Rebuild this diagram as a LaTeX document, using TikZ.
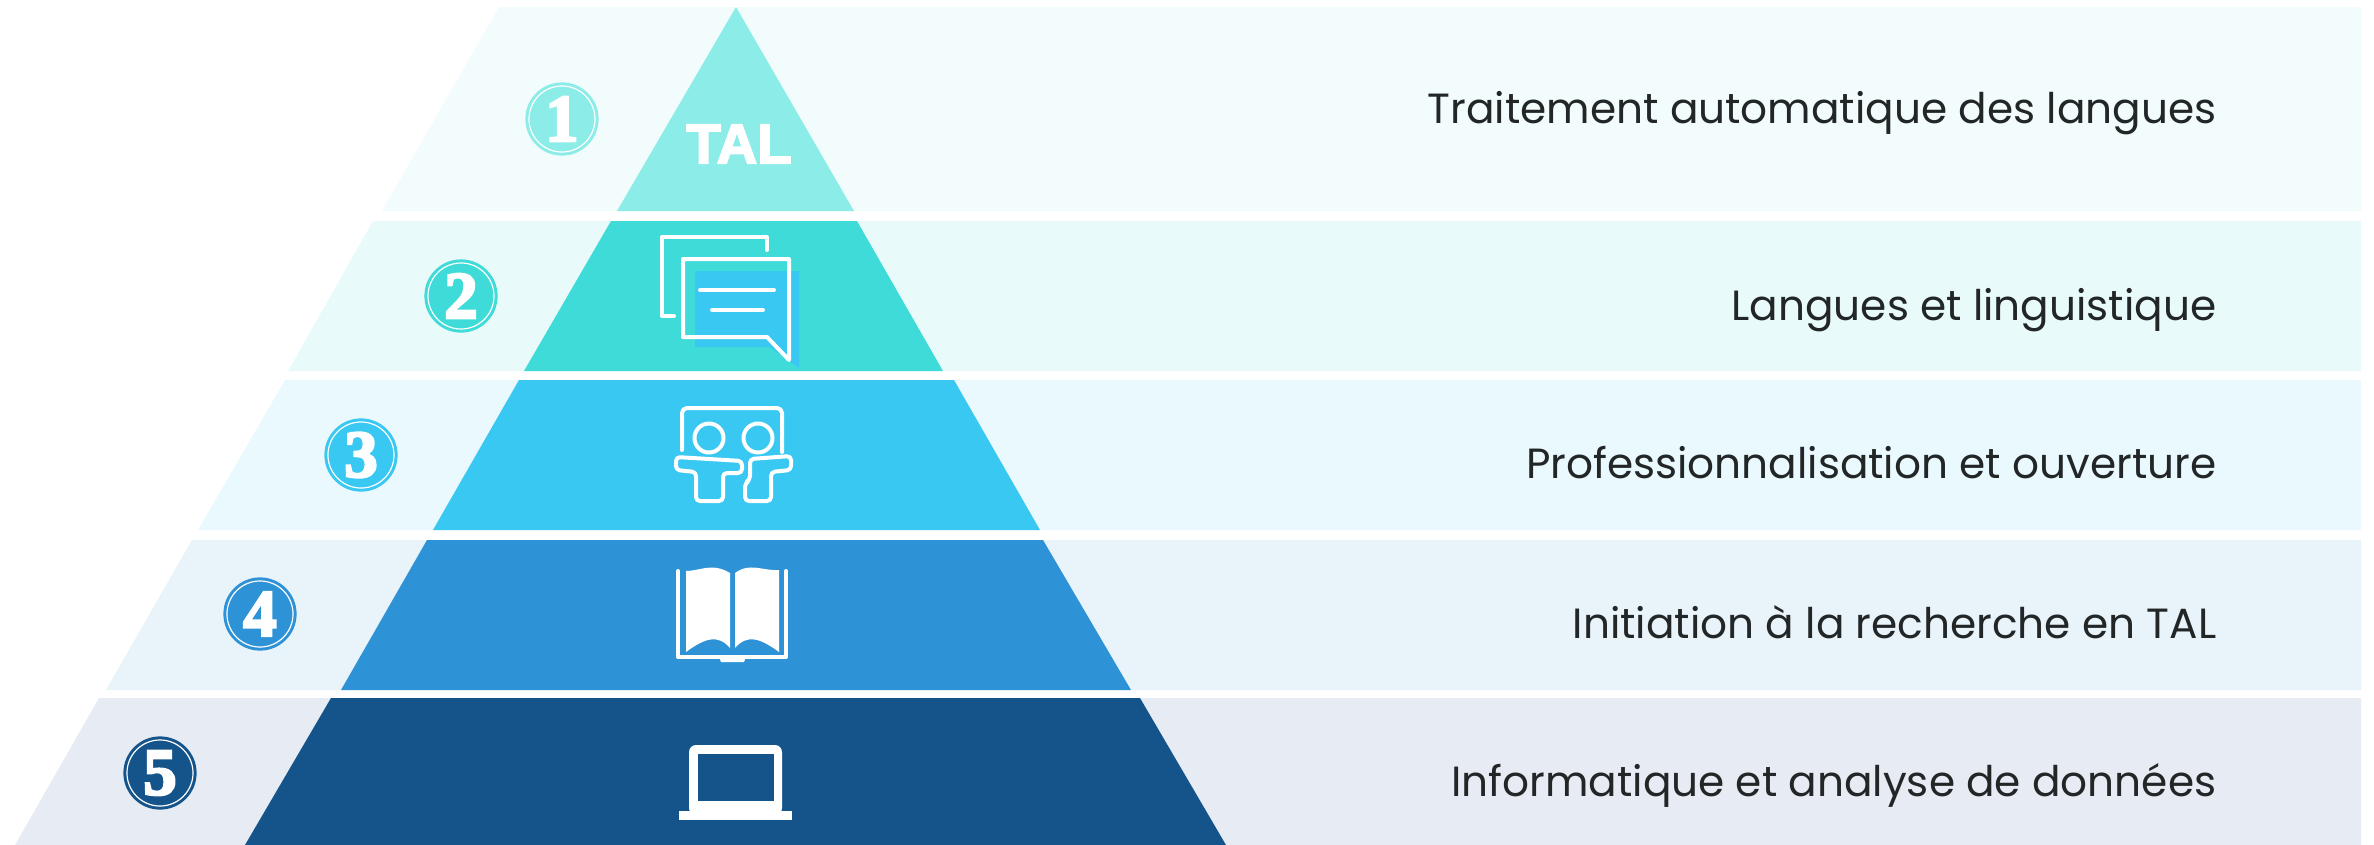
\documentclass[tikz,border=0pt]{standalone}
\usepackage{fontspec}
\usepackage{tikz}
\setmainfont{Poppins}
\newfontfamily\digitfont{Liberation Serif Bold}
\newfontfamily\talfont{Liberation Sans Bold}
\newcommand{\fatglyph}[2]{\special{pdf:code 2 Tr #1 w 1 1 1 RG}#2\special{pdf:code 0 Tr}}
\definecolor{bandA}{HTML}{F2FCFD}
\definecolor{bandB}{HTML}{E9FAFA}
\definecolor{bandC}{HTML}{E9F9FE}
\definecolor{bandD}{HTML}{E9F3FA}
\definecolor{bandE}{HTML}{E7EBF3}
\definecolor{tierA}{HTML}{8BECE8}
\definecolor{tierB}{HTML}{3FDBD8}
\definecolor{tierC}{HTML}{38C8F2}
\definecolor{tierD}{HTML}{2E92D7}
\definecolor{tierE}{HTML}{15548B}
\definecolor{inkc}{HTML}{222626}
\tikzset{
	numdisc/.style={shape=circle,inner sep=0pt,minimum size=0.66cm,line width=0.03cm,double=white,double distance=0.012cm,text=white,font=\digitfont\fontsize{19}{20}\selectfont},
	rowlabel/.style={anchor=base east,inner sep=0pt,text=inkc,font=\fontsize{12}{14}\selectfont},
	iconline/.style={draw=white,line width=0.04cm,line join=round,line cap=round}
}
\begin{document}
\begin{tikzpicture}[x=0.01cm,y=-0.01cm]
	\useasboundingbox (0,0) rectangle (2374,845);
	\fill[bandA] (499,7) -- (2361,7) -- (2361,211) -- (382,211) -- cycle;
	\fill[bandB] (373,221) -- (2361,221) -- (2361,371) -- (288,371) -- cycle;
	\fill[bandC] (285,380) -- (2361,380) -- (2361,530) -- (198,530) -- cycle;
	\fill[bandD] (192,540) -- (2361,540) -- (2361,690) -- (106,690) -- cycle;
	\fill[bandE] (99,698) -- (2361,698) -- (2361,845) -- (15,845) -- cycle;
	\fill[tierA] (736,7) -- (854,211) -- (617,211) -- cycle;
	\fill[tierB] (611,221) -- (857,221) -- (943,371) -- (524,371) -- cycle;
	\fill[tierC] (519,380) -- (954,380) -- (1040,530) -- (433,530) -- cycle;
	\fill[tierD] (427,540) -- (1043,540) -- (1131,690) -- (341,690) -- cycle;
	\fill[tierE] (331,698) -- (1140,698) -- (1226,845) -- (245,845) -- cycle;
	\node[numdisc,fill=tierA,draw=tierA] (N1) at (562,119) {\fatglyph{0.7}{1}};
	\node[numdisc,fill=tierB,draw=tierB] (N2) at (461,296) {\fatglyph{0.7}{2}};
	\node[numdisc,fill=tierC,draw=tierC] (N3) at (361,455) {\fatglyph{0.7}{3}};
	\node[numdisc,fill=tierD,draw=tierD] (N4) at (260,614) {\fatglyph{0.7}{4}};
	\node[numdisc,fill=tierE,draw=tierE] (N5) at (160,773) {\fatglyph{0.7}{5}};
	\node[inner sep=0pt,text=white,font=\talfont\fontsize{16}{18}\selectfont] (TAL) at (739,144) {\fatglyph{0.5}{TAL}};
	\node[rowlabel] (L1) at (2217,123) {Traitement automatique des langues};
	\node[rowlabel] (L2) at (2217,320) {Langues et linguistique};
	\node[rowlabel] (L3) at (2217,478) {Professionnalisation et ouverture};
	\node[rowlabel] (L4) at (2217,638) {Initiation à la recherche en TAL};
	\node[rowlabel] (L5) at (2217,796) {Informatique et analyse de données};
	\fill[tierC] (695,271) -- (799,271) -- (799,368) -- (770,347) -- (695,347) -- cycle;
	\draw[iconline] (674,316) -- (662,316) -- (662,237) -- (767,237) -- (767,250);
	\draw[iconline] (683,259) -- (789,259) -- (789,360) -- (767,337) -- (683,337) -- cycle;
	\draw[iconline] (700,290) -- (774,290);
	\draw[iconline] (712,310) -- (763,310);
	\draw[iconline,rounded corners=0.05cm] (682,450) -- (682,408) -- (782,408) -- (782,452);
	\draw[iconline] (709,438) circle (14.5);
	\draw[iconline] (758,438) circle (14.5);
	\draw[iconline,rounded corners=0.04cm] (676,457) -- (742,461) -- (742,473) -- (723,473) -- (723,501) -- (696,501) -- (696,472) -- (676,470) -- cycle;
	\draw[iconline,rounded corners=0.04cm] (750,459) -- (791,456) -- (791,470) -- (771,472) -- (771,501) -- (745,501) -- (745,483) -- (750,480) -- cycle;
	\draw[iconline] (678,571) -- (678,657) -- (786,657) -- (786,571);
	\fill[white] (686,571) .. controls (700,571) and (712,562) .. (730,573) -- (730,648) .. controls (718,634) and (705,638) .. (686,652) -- cycle;
	\fill[white] (735,573) .. controls (750,562) and (762,571) .. (779,570) -- (779,652) .. controls (760,638) and (747,634) .. (735,648) -- cycle;
	\fill[white] (719,657) -- (746,657) -- (744,662) -- (721,662) -- cycle;
	\fill[white,rounded corners=0.07cm] (689,745) rectangle (782,815);
	\fill[tierE] (698,754) rectangle (774,801);
	\fill[white] (679,811) rectangle (792,820);
\end{tikzpicture}
\end{document}
